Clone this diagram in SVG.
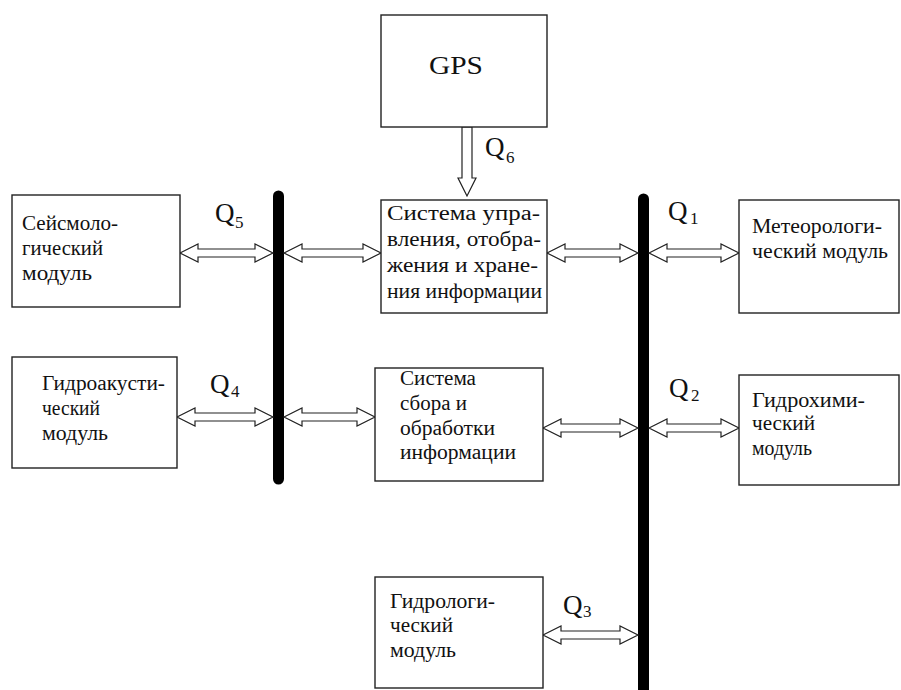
<svg xmlns="http://www.w3.org/2000/svg" width="901" height="690" viewBox="0 0 901 690">
<style>
.box{fill:#fff;stroke:#222;stroke-width:1.4}
.t{font-family:"Liberation Serif","Times New Roman",serif;font-size:20px;fill:#111}
.g{font-family:"Liberation Serif","Times New Roman",serif;font-size:26px;fill:#111}
.q{font-family:"Liberation Serif","Times New Roman",serif;font-size:27px;fill:#111}
.s{font-family:"Liberation Serif","Times New Roman",serif;font-size:17px;fill:#111}
.arr{fill:#fff;stroke:#222;stroke-width:1.2;stroke-linejoin:miter}
.bus{stroke:#000;stroke-width:11;stroke-linecap:round;fill:none}
</style>
<rect width="901" height="690" fill="#fff"/>
<g id="connectors">
<line class="bus" x1="278.5" y1="196" x2="278.5" y2="479"/>
<line class="bus" x1="643.5" y1="199" x2="643.5" y2="700"/>
<polygon class="arr" points="467,196 458,178 462,178 462,127 472,127 472,178 476,178"/>
<polygon class="arr" points="180,253 198,244 198,249 255,249 255,244 273,253 255,262 255,257 198,257 198,262"/>
<polygon class="arr" points="284,253 302,244 302,249 363,249 363,244 381,253 363,262 363,257 302,257 302,262"/>
<polygon class="arr" points="547,253 565,244 565,249 620,249 620,244 638,253 620,262 620,257 565,257 565,262"/>
<polygon class="arr" points="649,253 667,244 667,249 721,249 721,244 739,253 721,262 721,257 667,257 667,262"/>
<polygon class="arr" points="177,417 195,408 195,413 255,413 255,408 273,417 255,426 255,421 195,421 195,426"/>
<polygon class="arr" points="284,417 302,408 302,413 357,413 357,408 375,417 357,426 357,421 302,421 302,426"/>
<polygon class="arr" points="543,428 561,419 561,424 620,424 620,419 638,428 620,437 620,432 561,432 561,437"/>
<polygon class="arr" points="649,428 667,419 667,424 721,424 721,419 739,428 721,437 721,432 667,432 667,437"/>
<polygon class="arr" points="543,635 561,626 561,631 620,631 620,626 638,635 620,644 620,639 561,639 561,644"/>
<text class="q" x="215" y="222">Q</text><text class="s" x="235" y="228">5</text>
<text class="q" x="668" y="220">Q</text><text class="s" x="690" y="224">1</text>
<text class="q" x="669" y="397">Q</text><text class="s" x="691" y="401">2</text>
<text class="q" x="210" y="393">Q</text><text class="s" x="231" y="397">4</text>
<text class="q" x="563" y="614">Q</text><text class="s" x="583" y="617">3</text>
<text class="q" x="485" y="156">Q</text><text class="s" x="506" y="163">6</text>
</g>
<g id="gps">
<rect class="box" x="381" y="15" width="166" height="112"/>
<text class="g" x="429" y="74" textLength="54" lengthAdjust="spacingAndGlyphs">GPS</text>
</g>
<g id="control">
<rect class="box" x="381" y="200" width="166" height="113"/>
<text class="t" x="387" y="220" textLength="153" lengthAdjust="spacingAndGlyphs">Система упра-</text>
<text class="t" x="387" y="246" textLength="154" lengthAdjust="spacingAndGlyphs">вления, отобра-</text>
<text class="t" x="387" y="272" textLength="151" lengthAdjust="spacingAndGlyphs">жения и хране-</text>
<text class="t" x="387" y="298" textLength="155" lengthAdjust="spacingAndGlyphs">ния информации</text>
</g>
<g id="seismo">
<rect class="box" x="12" y="195" width="168" height="112"/>
<text class="t" x="22" y="230" textLength="96" lengthAdjust="spacingAndGlyphs">Сейсмоло-</text>
<text class="t" x="22" y="255" textLength="81" lengthAdjust="spacingAndGlyphs">гический</text>
<text class="t" x="22" y="280" textLength="70" lengthAdjust="spacingAndGlyphs">модуль</text>
</g>
<g id="hydroacoustic">
<rect class="box" x="12" y="357" width="165" height="111"/>
<text class="t" x="42" y="390" textLength="123" lengthAdjust="spacingAndGlyphs">Гидроакусти-</text>
<text class="t" x="42" y="415" textLength="58" lengthAdjust="spacingAndGlyphs">ческий</text>
<text class="t" x="42" y="440" textLength="66" lengthAdjust="spacingAndGlyphs">модуль</text>
</g>
<g id="collect">
<rect class="box" x="375" y="368" width="168" height="113"/>
<text class="t" x="400" y="385" textLength="76" lengthAdjust="spacingAndGlyphs">Система</text>
<text class="t" x="400" y="410" textLength="67" lengthAdjust="spacingAndGlyphs">сбора и</text>
<text class="t" x="400" y="435" textLength="95" lengthAdjust="spacingAndGlyphs">обработки</text>
<text class="t" x="400" y="459" textLength="116" lengthAdjust="spacingAndGlyphs">информации</text>
</g>
<g id="meteo">
<rect class="box" x="739" y="200" width="160" height="113"/>
<text class="t" x="752" y="233" textLength="130" lengthAdjust="spacingAndGlyphs">Метеорологи-</text>
<text class="t" x="752" y="258" textLength="136" lengthAdjust="spacingAndGlyphs">ческий модуль</text>
</g>
<g id="hydrochem">
<rect class="box" x="739" y="375" width="160" height="110"/>
<text class="t" x="752" y="407" textLength="113" lengthAdjust="spacingAndGlyphs">Гидрохими-</text>
<text class="t" x="752" y="430" textLength="63" lengthAdjust="spacingAndGlyphs">ческий</text>
<text class="t" x="752" y="455" textLength="60" lengthAdjust="spacingAndGlyphs">модуль</text>
</g>
<g id="hydrolog">
<rect class="box" x="375" y="577" width="168" height="111"/>
<text class="t" x="390" y="608" textLength="105" lengthAdjust="spacingAndGlyphs">Гидрологи-</text>
<text class="t" x="390" y="632" textLength="63" lengthAdjust="spacingAndGlyphs">ческий</text>
<text class="t" x="390" y="657" textLength="66" lengthAdjust="spacingAndGlyphs">модуль</text>
</g>
</svg>
